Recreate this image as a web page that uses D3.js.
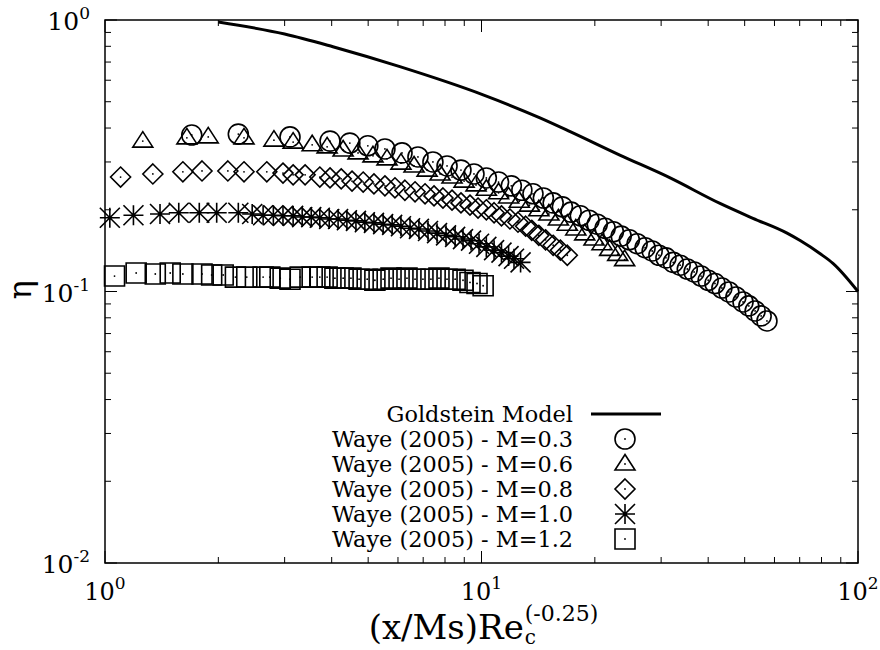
<!DOCTYPE html>
<html>
<head>
<meta charset="utf-8">
<script src="https://cdn.jsdelivr.net/npm/d3@7/dist/d3.min.js"></script>
<style>
  html, body { margin: 0; padding: 0; background: #fff; }
  svg { display: block; font-family: "DejaVu Serif", serif; }
</style>
</head>
<body>
<svg id="chart" width="880" height="650"></svg>
<script>
// Goldstein film-cooling effectiveness model
const goldX = [2.0, 3.0, 4.03, 6.07, 10.1, 14.3, 17.2, 23.3, 31.7, 43.0, 52.6, 64.8, 70.2, 79.2, 85.8, 100];
const goldEta = [0.983, 0.888, 0.797, 0.673, 0.530, 0.436, 0.388, 0.318, 0.262, 0.211, 0.186, 0.164, 0.154, 0.138, 0.127, 0.100];

// Waye (2005) measurements, M = 0.3
const m03X = [1.70, 2.26, 3.10, 3.96, 4.47, 4.99, 5.54, 6.15, 6.78, 7.43, 8.10, 8.82, 9.55, 10.3, 11.1, 12.0, 12.8, 13.7, 14.6, 15.5, 16.4, 17.3, 18.3, 19.3, 20.3, 21.3, 22.4, 23.5, 24.7, 25.9, 27.2, 28.4, 29.6, 30.9, 32.3, 33.7, 35.2, 36.7, 38.3, 40.0, 41.7, 43.5, 45.4, 47.4, 49.5, 51.3, 53.3, 55.3, 57.3];
const m03Eta = [0.377, 0.380, 0.371, 0.358, 0.352, 0.344, 0.335, 0.324, 0.313, 0.300, 0.290, 0.280, 0.271, 0.262, 0.253, 0.245, 0.236, 0.229, 0.221, 0.212, 0.205, 0.196, 0.190, 0.183, 0.177, 0.171, 0.166, 0.160, 0.155, 0.150, 0.145, 0.141, 0.136, 0.133, 0.128, 0.125, 0.121, 0.118, 0.114, 0.110, 0.107, 0.103, 0.0996, 0.0955, 0.0915, 0.0885, 0.0848, 0.0813, 0.0779];

// M = 0.6
const m06X = [1.26, 1.65, 1.88, 2.34, 2.81, 3.16, 3.55, 3.89, 4.29, 4.70, 5.15, 5.61, 6.11, 6.62, 7.17, 7.76, 8.35, 8.99, 9.67, 10.3, 11.1, 11.8, 12.6, 13.4, 14.2, 15.1, 16.0, 16.9, 17.8, 18.8, 19.9, 20.9, 21.9, 23.0, 24.0];
const m06Eta = [0.358, 0.368, 0.371, 0.368, 0.361, 0.355, 0.347, 0.341, 0.332, 0.324, 0.316, 0.308, 0.297, 0.290, 0.280, 0.271, 0.264, 0.255, 0.247, 0.238, 0.231, 0.223, 0.215, 0.208, 0.200, 0.193, 0.185, 0.177, 0.170, 0.163, 0.156, 0.150, 0.143, 0.137, 0.131];

// M = 0.8
const m08X = [1.10, 1.34, 1.61, 1.81, 2.12, 2.34, 2.69, 2.97, 3.16, 3.40, 3.72, 3.96, 4.24, 4.53, 4.85, 5.18, 5.54, 5.89, 6.26, 6.66, 7.08, 7.48, 7.90, 8.35, 8.82, 9.32, 9.79, 10.3, 10.8, 11.3, 11.9, 12.5, 13.1, 13.6, 14.2, 14.8, 15.5, 16.2, 16.9];
const m08Eta = [0.264, 0.271, 0.276, 0.278, 0.278, 0.276, 0.276, 0.273, 0.269, 0.269, 0.264, 0.262, 0.260, 0.255, 0.253, 0.249, 0.245, 0.241, 0.236, 0.233, 0.229, 0.225, 0.221, 0.217, 0.212, 0.208, 0.203, 0.200, 0.195, 0.190, 0.185, 0.180, 0.174, 0.168, 0.161, 0.155, 0.148, 0.142, 0.136];

// M = 1.0
const m10X = [1.03, 1.19, 1.40, 1.57, 1.78, 1.98, 2.26, 2.46, 2.63, 2.80, 2.97, 3.16, 3.34, 3.53, 3.72, 3.94, 4.16, 4.39, 4.64, 4.90, 5.18, 5.48, 5.79, 6.11, 6.46, 6.82, 7.21, 7.62, 8.05, 8.51, 8.93, 9.38, 9.85, 10.3, 10.8, 11.3, 11.8, 12.2, 12.7];
const m10Eta = [0.187, 0.191, 0.193, 0.195, 0.195, 0.195, 0.195, 0.193, 0.191, 0.191, 0.190, 0.190, 0.188, 0.188, 0.187, 0.185, 0.185, 0.183, 0.182, 0.180, 0.179, 0.177, 0.176, 0.174, 0.171, 0.170, 0.167, 0.164, 0.161, 0.159, 0.156, 0.154, 0.150, 0.146, 0.142, 0.139, 0.135, 0.132, 0.128];

// M = 1.2
const m12X = [1.06, 1.21, 1.36, 1.49, 1.61, 1.81, 1.92, 2.06, 2.22, 2.38, 2.63, 2.74, 2.92, 3.10, 3.30, 3.55, 3.72, 3.89, 4.08, 4.29, 4.50, 4.73, 4.97, 5.21, 5.48, 5.75, 6.04, 6.34, 6.66, 6.99, 7.34, 7.71, 8.10, 8.51, 8.93, 9.32, 9.73, 10.1];
const m12Eta = [0.114, 0.117, 0.116, 0.117, 0.116, 0.116, 0.115, 0.115, 0.113, 0.113, 0.113, 0.113, 0.112, 0.111, 0.113, 0.113, 0.113, 0.113, 0.112, 0.112, 0.112, 0.111, 0.111, 0.110, 0.111, 0.112, 0.111, 0.112, 0.111, 0.111, 0.111, 0.112, 0.111, 0.111, 0.110, 0.108, 0.107, 0.105];

// Axis decades and legend text
const xDecades = [1, 10, 100];
const xExponents = ["0", "1", "2"];
const yDecades = [1, 0.1, 0.01];
const yExponents = ["0", "-1", "-2"];
const legendLabels = ["Goldstein Model", "Waye (2005) - M=0.3", "Waye (2005) - M=0.6",
                      "Waye (2005) - M=0.8", "Waye (2005) - M=1.0", "Waye (2005) - M=1.2"];

const svg = d3.select("#chart");
const L = 105, R = 858, T = 20, B = 563;
const x = d3.scaleLog().domain([1, 100]).range([L, R]);
const y = d3.scaleLog().domain([0.01, 1]).range([B, T]);

// marker glyphs (open points with a centre dot)
const S = 10;
const shapes = {
  circle: `M${S},0A${S},${S} 0 1,1 ${-S},0A${S},${S} 0 1,1 ${S},0Z`,
  triangle: `M0,${-9.5}L${S},6L${-S},6Z`,
  diamond: `M0,${-S}L${S},0L0,${S}L${-S},0Z`,
  star: `M${-S},0L${S},0M0,${-S}L0,${S}M${-S},${-S}L${S},${S}M${-S},${S}L${S},${-S}`,
  square: `M${-S},${-S}L${S},${-S}L${S},${S}L${-S},${S}Z`
};

function drawPoints(xs, ys, shape) {
  const g = svg.append("g");
  const pts = xs.map((v, i) => [v, ys[i]]);
  const m = g.selectAll("g").data(pts).enter().append("g")
    .attr("transform", d => `translate(${x(d[0])},${y(d[1])})`);
  m.append("path").attr("d", shapes[shape])
    .attr("fill", "none").attr("stroke", "#000").attr("stroke-width", 1.6);
  if (shape !== "star") {
    m.append("circle").attr("r", 0.9).attr("fill", "#000");
  }
}

drawPoints(m03X, m03Eta, "circle");
drawPoints(m06X, m06Eta, "triangle");
drawPoints(m08X, m08Eta, "diamond");
drawPoints(m10X, m10Eta, "star");
drawPoints(m12X, m12Eta, "square");

// Goldstein curve
const gold = goldX.map((v, i) => [v, goldEta[i]]);
svg.append("path")
  .attr("d", d3.line().x(d => x(d[0])).y(d => y(d[1])).curve(d3.curveMonotoneX)(gold))
  .attr("fill", "none").attr("stroke", "#000").attr("stroke-width", 3);

// frame and inward ticks on all four sides
const minorX = x.ticks().filter(v => !xDecades.includes(v));
const minorY = y.ticks().filter(v => !yDecades.some(d => Math.abs(d - v) < 1e-9));
const tk = svg.append("g").attr("stroke", "#000").attr("stroke-width", 1);
function tickSet(vals, len, side) {
  vals.forEach(v => {
    if (side === "b") tk.append("line").attr("x1", x(v)).attr("x2", x(v)).attr("y1", B).attr("y2", B - len);
    if (side === "t") tk.append("line").attr("x1", x(v)).attr("x2", x(v)).attr("y1", T).attr("y2", T + len);
    if (side === "l") tk.append("line").attr("y1", y(v)).attr("y2", y(v)).attr("x1", L).attr("x2", L + len);
    if (side === "r") tk.append("line").attr("y1", y(v)).attr("y2", y(v)).attr("x1", R).attr("x2", R - len);
  });
}
tickSet(minorX, 6, "b"); tickSet(minorX, 6, "t");
tickSet(xDecades, 12, "b"); tickSet(xDecades, 12, "t");
tickSet(minorY, 6, "l"); tickSet(minorY, 6, "r");
tickSet(yDecades, 12, "l"); tickSet(yDecades, 12, "r");
svg.append("rect").attr("x", L).attr("y", T).attr("width", R - L).attr("height", B - T)
  .attr("fill", "none").attr("stroke", "#000").attr("stroke-width", 1.5);

// tick labels
xDecades.forEach((v, i) => {
  const t = svg.append("text").attr("x", x(v)).attr("y", 600)
    .attr("text-anchor", "middle").attr("font-size", 24);
  t.append("tspan").text("10");
  t.append("tspan").attr("dy", -11).attr("font-size", 17).text(xExponents[i]);
});
yDecades.forEach((v, i) => {
  const t = svg.append("text").attr("x", 90).attr("y", y(v) + 10)
    .attr("text-anchor", "end").attr("font-size", 25);
  t.append("tspan").text("10");
  t.append("tspan").attr("dy", -11).attr("font-size", 17).text(yExponents[i]);
});

// axis titles
svg.append("text").attr("transform", "translate(31,290) rotate(-90)")
  .attr("text-anchor", "middle").attr("font-size", 32).text("η");

const xt = svg.append("g");
const base = xt.append("text").attr("x", 0).attr("y", 639).attr("font-size", 34).text("(x/Ms)Re");
const bw = base.node().getComputedTextLength();
xt.append("text").attr("x", bw + 1).attr("y", 644).attr("font-size", 20).text("c");
const sup = xt.append("text").attr("x", bw + 1).attr("y", 621).attr("font-size", 22).text("(-0.25)");
const totalW = bw + sup.node().getComputedTextLength();
xt.attr("transform", `translate(${483 - totalW / 2},0)`);

// legend
const legY = [414, 439, 464, 489, 514, 539];
const legShapes = [null, "circle", "triangle", "diamond", "star", "square"];
legendLabels.forEach((lab, i) => {
  svg.append("text").attr("x", 573).attr("y", legY[i] + 8)
    .attr("text-anchor", "end").attr("font-size", 22.4).text(lab);
  if (i === 0) {
    svg.append("line").attr("x1", 591).attr("x2", 661).attr("y1", legY[i]).attr("y2", legY[i])
      .attr("stroke", "#000").attr("stroke-width", 3);
  } else {
    const g = svg.append("g").attr("transform", `translate(625,${legY[i]})`);
    g.append("path").attr("d", shapes[legShapes[i]])
      .attr("fill", "none").attr("stroke", "#000").attr("stroke-width", 1.6);
    if (legShapes[i] !== "star") g.append("circle").attr("r", 0.9).attr("fill", "#000");
  }
});
</script>
</body>
</html>
